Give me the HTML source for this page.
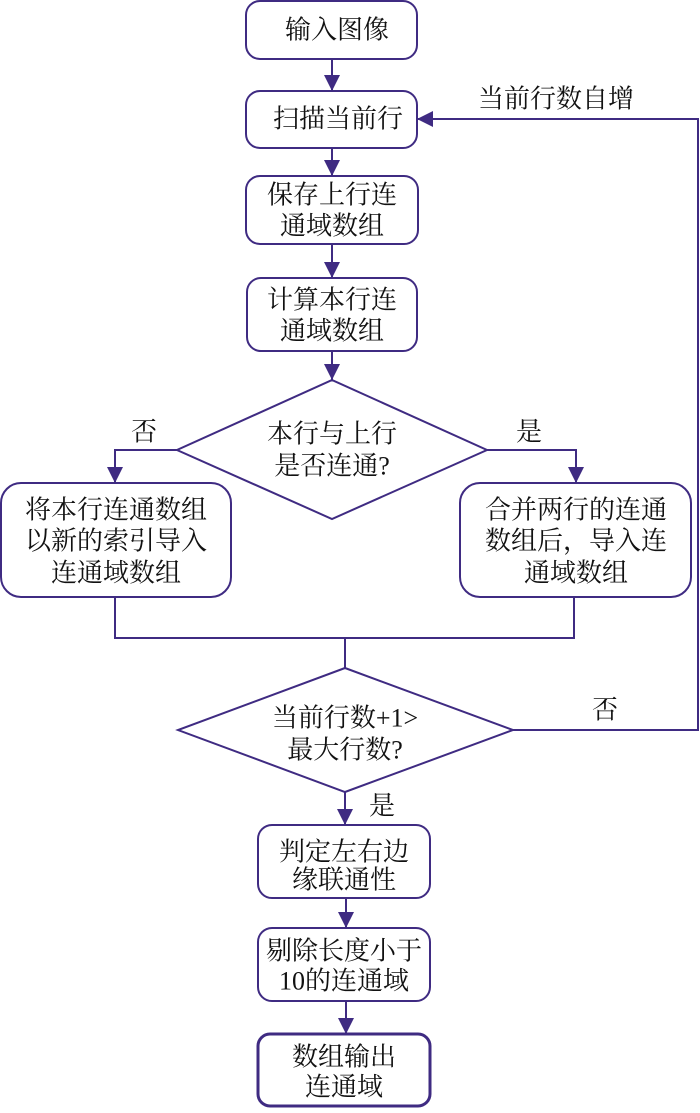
<!DOCTYPE html>
<html><head><meta charset="utf-8"><style>
html,body{margin:0;padding:0;background:#fff}
svg text{font-family:"Liberation Serif","Noto Serif CJK SC","Noto Sans CJK SC",serif;font-size:26px;fill:#111;text-anchor:middle;dominant-baseline:central}
</style></head><body>
<svg width="700" height="1108" viewBox="0 0 700 1108" xmlns="http://www.w3.org/2000/svg">
<defs><marker id="a" markerWidth="10" markerHeight="10" refX="9" refY="5" orient="auto" markerUnits="userSpaceOnUse"><path d="M0,0 L10,5 L0,10 z" fill="#3f2b82"/></marker>
<marker id="b" markerWidth="18" markerHeight="16" refX="16" refY="8" orient="auto" markerUnits="userSpaceOnUse"><path d="M0,0 L16,8 L0,16 z" fill="#3f2b82"/></marker></defs>
<g fill="none" stroke="#3f2b82" stroke-width="2">
<rect x="246" y="1" width="171" height="58" rx="14"/>
<rect x="246" y="91" width="171" height="57" rx="14"/>
<rect x="246" y="176" width="172" height="68" rx="14"/>
<rect x="247" y="278" width="170" height="73" rx="14"/>
<polygon points="332,380 487,450 332,519 177,450"/>
<rect x="1" y="483" width="230" height="114" rx="20"/>
<rect x="460" y="483" width="231" height="114" rx="20"/>
<polygon points="345,668 513,730 345,792 178,730"/>
<rect x="258" y="825" width="172" height="73" rx="14"/>
<rect x="258" y="928" width="172" height="73" rx="14"/>
<rect x="258" y="1034" width="172" height="72" rx="12" stroke-width="3"/>
<line x1="332" y1="59" x2="332" y2="91" marker-end="url(#b)"/>
<line x1="332" y1="148" x2="332" y2="176" marker-end="url(#b)"/>
<line x1="332" y1="244" x2="332" y2="278" marker-end="url(#b)"/>
<line x1="332" y1="351" x2="332" y2="380" marker-end="url(#b)"/>
<polyline points="177,450 115,450 115,483" marker-end="url(#b)"/>
<polyline points="487,450 576,450 576,483" marker-end="url(#b)"/>
<polyline points="115,597 115,638 574,638 574,597"/>
<line x1="345" y1="638" x2="345" y2="668"/>
<polyline points="513,730 698,730 698,119 417,119" marker-end="url(#b)"/>
<line x1="345" y1="792" x2="345" y2="825" marker-end="url(#b)"/>
<line x1="346" y1="898" x2="346" y2="928" marker-end="url(#b)"/>
<line x1="346" y1="1001" x2="346" y2="1034" marker-end="url(#b)"/>
</g>
<text x="337" y="30">输入图像</text>
<text x="338" y="119">扫描当前行</text>
<text x="556" y="99">当前行数自增</text>
<text x="332" y="195">保存上行连</text>
<text x="332" y="226">通域数组</text>
<text x="332" y="300">计算本行连</text>
<text x="332" y="331">通域数组</text>
<text x="332" y="434">本行与上行</text>
<text x="332" y="466">是否连通?</text>
<text x="144" y="432">否</text>
<text x="529" y="432">是</text>
<text x="116" y="510">将本行连通数组</text>
<text x="116" y="541">以新的索引导入</text>
<text x="116" y="573">连通域数组</text>
<text x="576" y="510">合并两行的连通</text>
<text x="576" y="541">数组后，导入连</text>
<text x="576" y="573">通域数组</text>
<text x="345" y="718">当前行数+1&gt;</text>
<text x="345" y="750">最大行数?</text>
<text x="605" y="710">否</text>
<text x="382" y="806">是</text>
<text x="344" y="852">判定左右边</text>
<text x="344" y="880">缘联通性</text>
<text x="344" y="951">剔除长度小于</text>
<text x="344" y="981">10的连通域</text>
<text x="344" y="1057">数组输出</text>
<text x="344" y="1087">连通域</text>
</svg>
</body></html>
